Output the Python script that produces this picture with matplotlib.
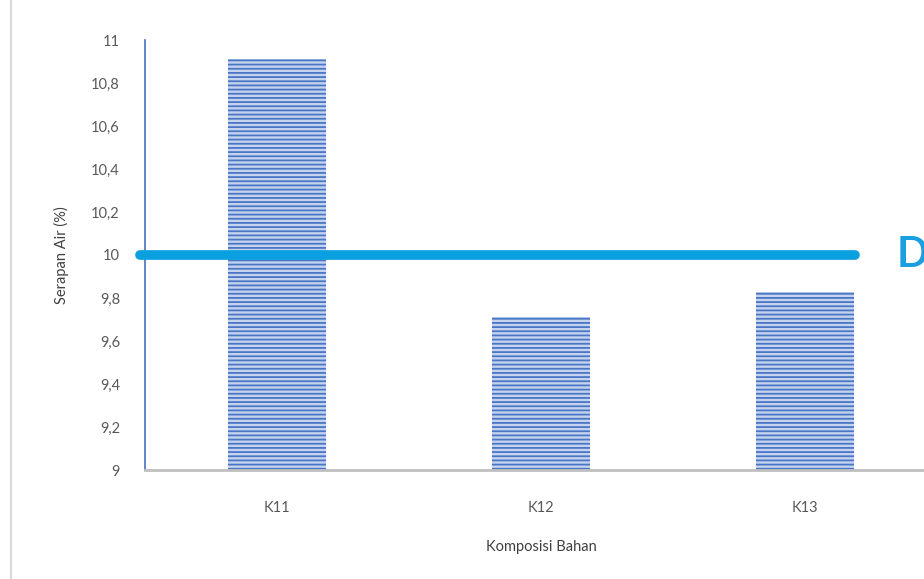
import matplotlib
matplotlib.use("Agg")
import matplotlib.pyplot as plt
from matplotlib.lines import Line2D

categories = ["K11", "K12", "K13"]
values = [10.91, 9.71, 9.83]
threshold = 10
yticks = [9, 9.2, 9.4, 9.6, 9.8, 10, 10.2, 10.4, 10.6, 10.8, 11]
ytick_labels = ["9", "9,2", "9,4", "9,6", "9,8", "10", "10,2", "10,4", "10,6", "10,8", "11"]

plt.rcParams['font.family'] = ['Lato', 'DejaVu Sans']
plt.rcParams['hatch.linewidth'] = 1.3

fig = plt.figure(figsize=(9.24, 5.79), dpi=100)
ax = fig.add_axes([145/924, 1-470/579, 792/924, 430/579])

x = list(range(len(categories)))
ax.bar(x, values, width=0.37, bottom=0, color='#c5d3ee', edgecolor='#4a76c6',
       hatch='----', linewidth=0)
ax.set_ylim(9, 11)
ax.set_xlim(-0.5, 2.5)
ax.set_yticks(yticks)
ax.set_yticklabels(ytick_labels)
ax.set_xticks(x)
ax.set_xticklabels(categories)
ax.tick_params(axis='both', length=0, labelsize=10.5, labelcolor='#595959')
ax.tick_params(axis='y', pad=18)
ax.tick_params(axis='x', pad=22)

for s in ['top', 'right']:
    ax.spines[s].set_visible(False)
ax.spines['left'].set_color('#4472c4')
ax.spines['left'].set_linewidth(1.2)
ax.spines['bottom'].set_color('#bfbfbf')
ax.spines['bottom'].set_linewidth(2)

ax.plot([-0.52, 2.19], [threshold, threshold], color='#0aa0e0', linewidth=7,
        solid_capstyle='round', clip_on=False, zorder=5)

ax.set_ylabel("Serapan Air (%)", fontsize=10.5, color='#404040', labelpad=16)
ax.set_xlabel("Komposisi Bahan", fontsize=10.5, color='#404040', labelpad=18)

fig.text(897/924, 1-255/579, "D", fontsize=30, fontweight='bold', color='#1a9fe0',
         ha='left', va='center')

fig.add_artist(Line2D([11/924, 11/924], [0, 1], color='#d9d9d9', linewidth=1.5,
                      transform=fig.transFigure))

fig.savefig("out.png", dpi=100)
